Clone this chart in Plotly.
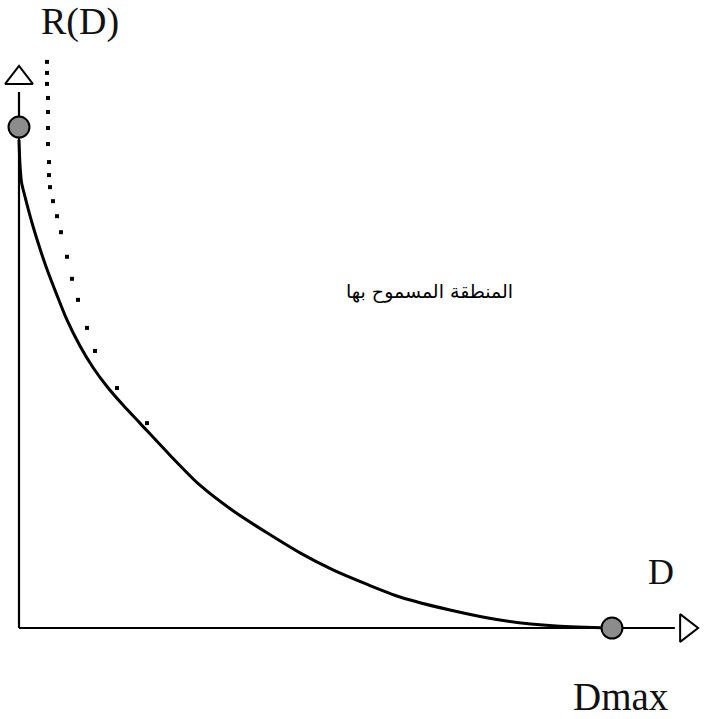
import plotly.graph_objects as go

# Rate-distortion function R(D): distortion D normalised so that Dmax = 1, R(0) = 1
d_curve = [0.0, 0.0017, 0.0042, 0.0101, 0.0169, 0.0236, 0.0354, 0.0472, 0.0641,
           0.0809, 0.1029, 0.1248, 0.1484, 0.1754, 0.2040, 0.2546, 0.3052, 0.3609,
           0.4182, 0.4739, 0.5295, 0.5852, 0.6425, 0.7268, 0.8111, 0.9056, 1.0]
r_curve = [0.974, 0.924, 0.890, 0.861, 0.830, 0.802, 0.757, 0.716, 0.664,
           0.615, 0.563, 0.520, 0.482, 0.445, 0.409, 0.345, 0.285, 0.234,
           0.190, 0.150, 0.116, 0.088, 0.062, 0.036, 0.016, 0.004, 0.0]

# Dotted bound curve
d_bound = [0.0472, 0.0472, 0.0472, 0.0489, 0.0489, 0.0489, 0.0489, 0.0506, 0.0506, 0.0523,
           0.0573, 0.0641, 0.0708, 0.0809, 0.0894, 0.0995, 0.1147, 0.1282, 0.1653, 0.2159]
r_bound = [1.130, 1.108, 1.086, 1.058, 1.030, 0.998, 0.966, 0.930, 0.904, 0.880,
           0.852, 0.822, 0.790, 0.741, 0.697, 0.655, 0.599, 0.553, 0.479, 0.409]

# Marked points: R(0) on the rate axis, Dmax on the distortion axis
d_marks = [0.0, 1.0]
r_marks = [1.0, 0.0]

# Axis extents (arrow bases and arrow positions)
d_axis_end = 1.106
r_axis_end = 1.070
d_arrow = 1.125
r_arrow = 1.098

region_label = "المنطقة المسموح بها"

fig = go.Figure()

# axes
fig.add_trace(go.Scatter(x=[0, 0], y=[0, r_axis_end], mode="lines",
                         line=dict(color="black", width=2.2), hoverinfo="skip"))
fig.add_trace(go.Scatter(x=[0, d_axis_end], y=[0, 0], mode="lines",
                         line=dict(color="black", width=2.2), hoverinfo="skip"))
fig.add_trace(go.Scatter(x=[0], y=[r_arrow], mode="markers",
                         marker=dict(symbol="triangle-up-open", size=24, color="black",
                                     line=dict(color="black", width=2)), hoverinfo="skip"))
fig.add_trace(go.Scatter(x=[d_arrow], y=[0], mode="markers",
                         marker=dict(symbol="triangle-right-open", size=24, color="black",
                                     line=dict(color="black", width=2)), hoverinfo="skip"))

# R(D) curve
fig.add_trace(go.Scatter(x=d_curve, y=r_curve, mode="lines",
                         line=dict(color="black", width=3, shape="spline", smoothing=0.8),
                         hoverinfo="skip"))

# dotted bound
fig.add_trace(go.Scatter(x=d_bound, y=r_bound, mode="markers",
                         marker=dict(symbol="square", size=4, color="black"),
                         hoverinfo="skip"))

# end points
fig.add_trace(go.Scatter(x=d_marks, y=r_marks, mode="markers",
                         marker=dict(symbol="circle", size=21, color="#8c8c8c",
                                     line=dict(color="black", width=2)),
                         hoverinfo="skip"))

serif = "Liberation Serif, Times New Roman, serif"
fig.add_annotation(x=0.103, y=1.21, text="R(D)", showarrow=False,
                   font=dict(family=serif, size=38, color="#111"))
fig.add_annotation(x=1.083, y=0.112, text="D", showarrow=False,
                   font=dict(family=serif, size=36, color="#111"))
fig.add_annotation(x=1.015, y=-0.136, text="Dmax", showarrow=False,
                   font=dict(family=serif, size=39, color="#111"))
fig.add_annotation(x=0.693, y=0.671, text=region_label, showarrow=False,
                   font=dict(family="DejaVu Sans, Noto Sans, sans-serif", size=19, color="black"))

fig.update_layout(
    width=704, height=719,
    margin=dict(l=0, r=0, t=0, b=0),
    paper_bgcolor="white", plot_bgcolor="white",
    showlegend=False,
    xaxis=dict(range=[-0.03204, 1.15514], visible=False, fixedrange=True),
    yaxis=dict(range=[-0.1816, 1.2535], visible=False, fixedrange=True),
)

fig.write_html("out.html")
